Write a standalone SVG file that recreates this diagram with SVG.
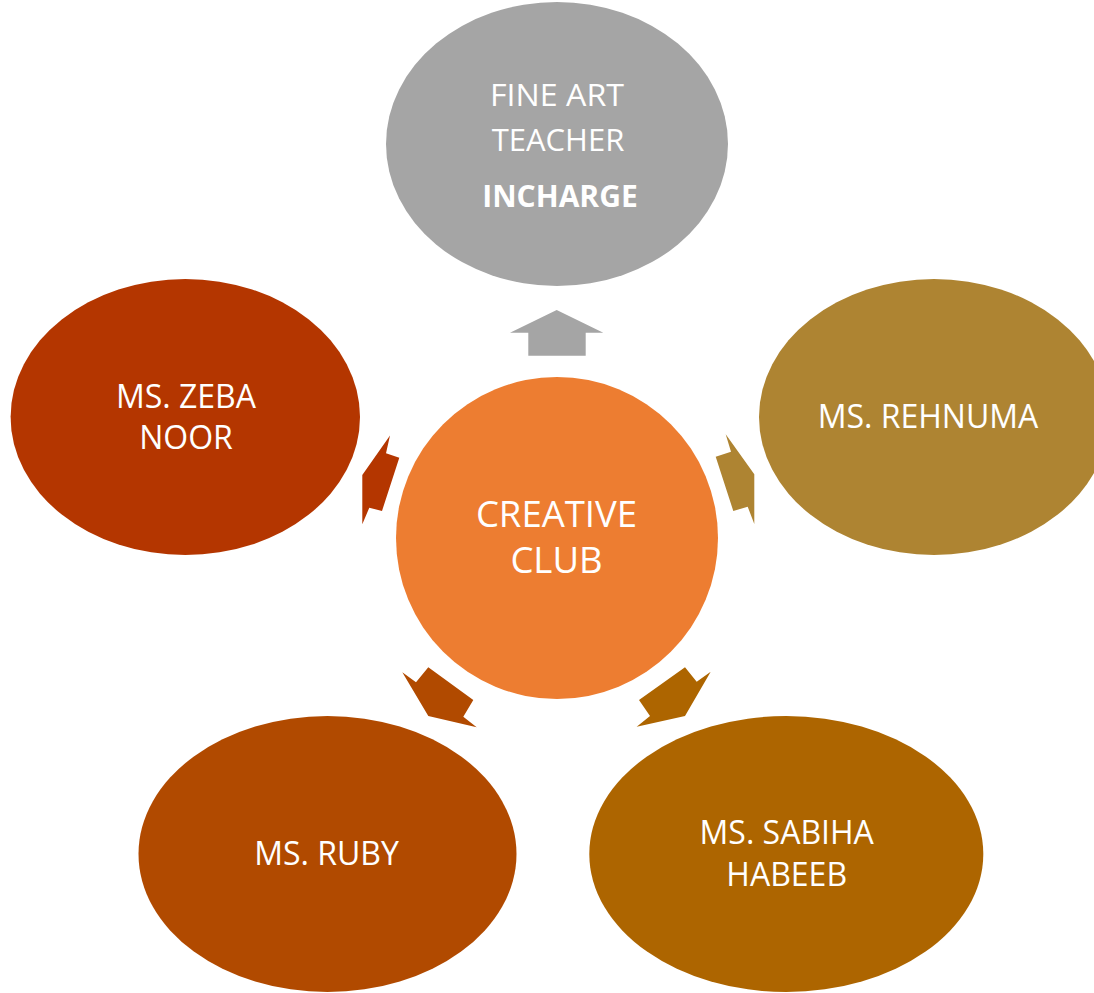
<svg xmlns="http://www.w3.org/2000/svg" width="1094" height="993" viewBox="0 0 1094 993">
<style>
text{font-family:"Open Sans","Noto Sans","Liberation Sans",sans-serif;fill:#FFFFFF;text-anchor:middle}
.t32{font-size:32px}
.t31{font-size:31px}
.t30{font-size:30px}
.t36{font-size:36.5px}
.b{font-weight:bold}
</style>
<rect width="1094" height="993" fill="#FFFFFF"/>
<g id="connectors">
<polygon id="arrow-top" fill="#A5A5A5" points="556.7,310 603.3,332.7 585.7,332.7 585.7,355.7 528.3,355.7 528.3,332.7 510,332.7"/>
<polygon id="arrow-zeba" fill="#B43600" points="390,435.5 386,453.3 399.3,457.7 382,511 369.3,507.7 362.3,524.3 362.3,475"/>
<polygon id="arrow-rehnuma" fill="#AE8432" points="725.7,434.3 731,451.7 715.7,456.7 733.3,511 747.7,506.7 754.3,524 754.3,474.3"/>
<polygon id="arrow-ruby" fill="#B14A00" points="402.3,672.3 416,682.3 428.3,667.3 473.3,700 463.3,716.7 476.7,727.3 428.3,716"/>
<polygon id="arrow-sabiha" fill="#AD6500" points="710.7,671.7 696.7,681.7 685,667.3 639,700 650,716 636.7,726.7 685,716"/>
</g>
<g id="node-top">
<ellipse cx="557" cy="144" rx="171" ry="142" fill="#A5A5A5"/>
<text class="t31" x="557" y="106" textLength="134" lengthAdjust="spacingAndGlyphs">FINE ART</text>
<text class="t31" x="558" y="151">TEACHER</text>
<text class="t30 b" x="560" y="207">INCHARGE</text>
</g>
<g id="node-zeba">
<ellipse cx="185.3" cy="417" rx="174.7" ry="138" fill="#B43600"/>
<text class="t32" x="186" y="407.5">MS. ZEBA</text>
<text class="t32" x="186" y="449">NOOR</text>
</g>
<g id="node-rehnuma">
<ellipse cx="934" cy="417" rx="175" ry="138" fill="#AE8432"/>
<text class="t32" x="928" y="427.5">MS. REHNUMA</text>
</g>
<g id="node-center">
<circle cx="557" cy="538" r="161" fill="#ED7D31"/>
<text class="t36" x="556.5" y="526.7">CREATIVE</text>
<text class="t36" x="556.5" y="573.3">CLUB</text>
</g>
<g id="node-ruby">
<ellipse cx="327.5" cy="854" rx="189" ry="138" fill="#B14A00"/>
<text class="t32" x="326.5" y="865">MS. RUBY</text>
</g>
<g id="node-sabiha">
<ellipse cx="786.3" cy="854" rx="197" ry="138" fill="#AD6500"/>
<text class="t32" x="786.7" y="844.3">MS. SABIHA</text>
<text class="t32" x="786.7" y="885.7">HABEEB</text>
</g>
</svg>
